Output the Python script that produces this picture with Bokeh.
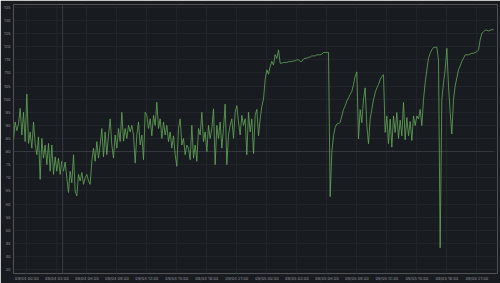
import pandas as pd
from bokeh.plotting import figure
from bokeh.models import Span, DatetimeTickFormatter, FixedTicker, Range1d, ColumnDataSource
from bokeh.embed import file_html
from bokeh.resources import INLINE

# ---- data (10-minute samples) ----
start_time = "2023-09-03 22:40"
sample_step = "10min"
values = [
    84.4, 91.3, 88.0, 90.5, 96.5, 86.3, 95.0, 83.8, 101.9, 83.1,
    87.5, 81.3, 91.3, 83.1, 78.8, 85.6, 69.4, 85.0, 77.5, 82.5,
    75.0, 83.1, 72.5, 82.5, 71.3, 78.0, 72.5, 77.5, 71.3, 76.3,
    72.5, 76.0, 70.0, 64.4, 72.5, 68.1, 78.8, 65.0, 63.1, 71.3,
    68.8, 72.0, 67.5, 70.0, 71.3, 68.8, 67.5, 76.3, 81.3, 76.3,
    83.8, 77.5, 82.5, 88.8, 78.0, 87.5, 78.8, 86.3, 92.5, 82.5,
    77.5, 86.3, 81.3, 88.8, 83.8, 95.0, 84.0, 88.8, 85.0, 90.0,
    87.5, 90.0, 86.3, 75.6, 86.3, 91.3, 82.5, 86.3, 76.9, 95.0,
    93.8, 88.8, 92.5, 86.0, 93.8, 90.0, 98.8, 88.8, 92.5, 85.0,
    91.3, 86.3, 90.0, 83.8, 87.5, 81.3, 86.0, 78.8, 74.4, 88.8,
    92.5, 82.5, 85.0, 78.8, 82.5, 81.3, 76.9, 90.0, 77.5, 82.5,
    76.3, 88.8, 86.3, 95.0, 83.8, 87.5, 80.0, 90.0, 85.0, 88.8,
    96.3, 75.0, 90.0, 85.0, 91.3, 81.3, 88.8, 98.1, 75.0, 86.3,
    90.0, 92.5, 85.0, 95.0, 97.5, 91.3, 86.3, 93.8, 90.0, 92.5,
    78.8, 95.0, 87.5, 92.5, 79.2, 93.8, 96.1, 86.0, 92.4, 97.4,
    100.0, 107.5, 111.2, 109.5, 112.5, 114.4, 113.0, 117.0, 115.5, 118.8,
    113.7, 113.7, 114.0, 114.0, 114.0, 114.3, 114.3, 114.3, 114.6, 114.6,
    115.0, 115.0, 114.4, 114.4, 115.3, 115.6, 115.6, 116.0, 116.0, 116.5,
    116.5, 116.5, 116.9, 116.9, 116.9, 117.2, 117.8, 117.8, 117.8, 117.8,
    62.8, 79.8, 86.0, 89.2, 90.5, 90.7, 91.1, 93.6, 96.1, 97.4,
    99.3, 100.5, 101.8, 103.0, 105.6, 108.7, 110.4, 84.8, 96.0, 91.0,
    100.0, 104.3, 90.0, 83.0, 92.4, 96.1, 99.9, 102.4, 104.3, 105.6,
    107.5, 108.7, 109.3, 87.3, 93.6, 83.0, 92.4, 81.7, 93.6, 87.3,
    94.9, 85.0, 92.0, 86.0, 98.7, 84.5, 93.0, 86.0, 91.5, 84.2,
    93.6, 89.9, 93.6, 92.4, 96.1, 89.9, 99.9, 106.2, 111.2, 115.6,
    117.5, 118.8, 119.7, 119.8, 119.8, 115.0, 43.3, 99.9, 106.2, 111.2,
    119.4, 105.0, 94.9, 86.7, 99.9, 105.0, 108.1, 111.2, 112.7, 114.4,
    115.6, 116.9, 116.9, 116.9, 117.2, 117.5, 117.5, 117.8, 118.1, 118.8,
    122.6, 125.1, 125.7, 126.3, 126.3, 126.0, 126.3, 126.5, 126.5,
]
threshold_value = 80
annotation_time = "2023-09-04 03:35"
x_tick_times = pd.date_range("2023-09-04 00:00", "2023-09-05 21:00", freq="3h")
y_ticks = list(range(35, 140, 5))
x_view = ("2023-09-03 22:40", "2023-09-05 23:04")
y_view = (33.5, 136.1)

times = pd.date_range(start_time, periods=len(values), freq=sample_step)
src = ColumnDataSource(dict(t=times, v=values, th=[threshold_value] * len(values)))

BG = "#181b1f"
p = figure(width=500, height=283, x_axis_type="datetime",
           output_backend="svg", toolbar_location=None,
           x_range=Range1d(pd.Timestamp(x_view[0]), pd.Timestamp(x_view[1])),
           y_range=Range1d(*y_view),
           background_fill_color=BG, border_fill_color=BG,
           outline_line_color=None,
           min_border_left=12, min_border_right=3,
           min_border_top=4, min_border_bottom=7)

p.xaxis.ticker = FixedTicker(ticks=[t.value // 10**6 for t in x_tick_times])
fmt = "%m/%d %H:%M"
p.xaxis.formatter = DatetimeTickFormatter(minutes=fmt, hourmin=fmt, hours=fmt, days=fmt,
                                          months=fmt, years=fmt)
p.yaxis.ticker = FixedTicker(ticks=y_ticks)

for ax in (p.xaxis, p.yaxis):
    ax.axis_line_color = None
    ax.major_tick_line_color = None
    ax.minor_tick_line_color = None
    ax.major_tick_out = 0
    ax.major_tick_in = 0
    ax.minor_tick_out = 0
    ax.minor_tick_in = 0
    ax.major_label_text_font_size = "4px"
    ax.major_label_text_color = "#8e9099"
    ax.major_label_text_font = "Inter"
p.yaxis.major_label_standoff = 3
p.xaxis.major_label_standoff = 2

p.xgrid.grid_line_color = "#212429"
p.ygrid.grid_line_color = "#212429"
p.xgrid.grid_line_width = 1
p.ygrid.grid_line_width = 1

p.add_layout(Span(location=pd.Timestamp(annotation_time), dimension="height",
                  line_color="#383b43", line_width=1))
p.line("t", "th", source=src, line_color="#3a3d45", line_width=1)
p.line("t", "v", source=src, line_color="#66aa5c", line_width=0.8)

open("out.html", "w").write(file_html(p, INLINE))
